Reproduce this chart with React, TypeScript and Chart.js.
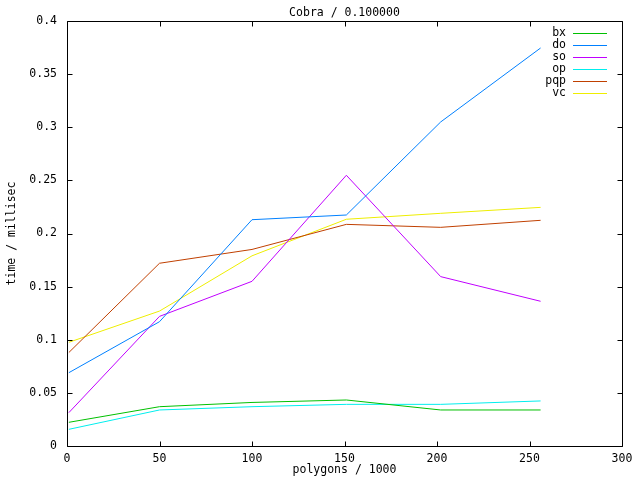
import React, { useEffect, useRef } from "react";
import { Chart, registerables } from "chart.js";

Chart.register(...registerables);

const chartTitle = "Cobra / 0.100000";
const xTitle = "polygons / 1000";
const yTitle = "time / millisec";

const polygons = [1, 50, 100, 151, 202, 256];
const bx = [0.0223, 0.037, 0.041, 0.0433, 0.0339, 0.0339];
const doS = [0.069, 0.117, 0.213, 0.2174, 0.305, 0.3746];
const so = [0.0314, 0.122, 0.155, 0.2548, 0.1594, 0.1362];
const op = [0.0157, 0.0339, 0.037, 0.0392, 0.0392, 0.0424];
const pqp = [0.088, 0.172, 0.185, 0.2086, 0.2058, 0.2124];
const vc = [0.0976, 0.127, 0.179, 0.2134, 0.219, 0.2246];

const seriesNames = ["bx", "do", "so", "op", "pqp", "vc"];
const seriesValues = [bx, doS, so, op, pqp, vc];
const seriesColors = ["#00c000", "#0080ff", "#c000ff", "#00eeee", "#c04000", "#eeee00"];

const xTicks = [0, 50, 100, 150, 200, 250, 300];
const yTicks = [0, 0.05, 0.1, 0.15, 0.2, 0.25, 0.3, 0.35, 0.4];

const FONT = "'DejaVu Sans Mono', monospace";
const FSIZE = 11.5;

const gnuplotPlugin = {
  id: "gnuplotDecor",
  afterDraw(chart: any) {
    const ctx = chart.ctx;
    const a = chart.chartArea;
    const xs = chart.scales.x;
    const ys = chart.scales.y;
    ctx.save();
    ctx.strokeStyle = "#000";
    ctx.lineWidth = 1;
    // frame
    const L = Math.round(a.left) + 0.5;
    const R = Math.round(a.right) + 0.5;
    const T = Math.round(a.top) + 0.5;
    const B = Math.round(a.bottom) + 0.5;
    ctx.beginPath();
    ctx.rect(L, T, R - L, B - T);
    ctx.stroke();
    // ticks
    const tl = 5;
    ctx.beginPath();
    for (const v of yTicks) {
      const y = Math.round(ys.getPixelForValue(v)) + 0.5;
      ctx.moveTo(L, y);
      ctx.lineTo(L + tl, y);
      ctx.moveTo(R, y);
      ctx.lineTo(R - tl, y);
    }
    for (const v of xTicks) {
      const x = Math.round(xs.getPixelForValue(v)) + 0.5;
      ctx.moveTo(x, B);
      ctx.lineTo(x, B - tl);
      ctx.moveTo(x, T);
      ctx.lineTo(x, T + tl);
    }
    ctx.stroke();
    // texts
    ctx.fillStyle = "#000";
    ctx.font = `${FSIZE}px ${FONT}`;
    ctx.textAlign = "center";
    ctx.textBaseline = "middle";
    const cx = (a.left + a.right) / 2;
    ctx.fillText(chartTitle, cx, 13);
    ctx.fillText(xTitle, cx, 470);
    ctx.save();
    ctx.translate(12, (a.top + a.bottom) / 2);
    ctx.rotate(-Math.PI / 2);
    ctx.fillText(yTitle, 0, 0);
    ctx.restore();
    // legend
    chart.data.datasets.forEach((ds: any, i: number) => {
      const y = 33 + i * 12;
      ctx.textAlign = "right";
      ctx.fillStyle = "#000";
      ctx.fillText(ds.label, 566, y);
      ctx.fillStyle = seriesColors[i];
      ctx.fillRect(573, Math.round(y), 34, 1);
    });
    ctx.restore();
  },
};

export default function App() {
  const ref = useRef<HTMLCanvasElement | null>(null);
  useEffect(() => {
    document.body.style.margin = "0";
    const canvas = ref.current;
    if (!canvas) return;
    const chart = new Chart(canvas, {
      type: "line",
      data: {
        datasets: seriesNames.map((name, i) => ({
          label: name,
          data: polygons.map((x, j) => ({ x, y: seriesValues[i][j] })),
          borderColor: seriesColors[i],
          backgroundColor: seriesColors[i],
          borderWidth: 1,
          pointRadius: 0,
          tension: 0,
          fill: false,
        })),
      },
      options: {
        responsive: false,
        animation: false,
        devicePixelRatio: 1,
        layout: { padding: { top: 21, right: 18, left: 0, bottom: 0 } },
        plugins: {
          legend: { display: false },
          title: { display: false },
          tooltip: { enabled: false },
        },
        scales: {
          x: {
            type: "linear",
            min: 0,
            max: 300,
            afterBuildTicks: (s: any) => {
              s.ticks = xTicks.map((v) => ({ value: v }));
            },
            afterFit: (s: any) => {
              s.height = 34;
            },
            grid: { display: false, drawTicks: false },
            border: { display: false },
            ticks: {
              color: "#000",
              padding: 6,
              maxRotation: 0,
              font: { family: FONT, size: FSIZE },
              callback: (v: any) => String(v),
            },
          },
          y: {
            type: "linear",
            min: 0,
            max: 0.4,
            afterBuildTicks: (s: any) => {
              s.ticks = yTicks.map((v) => ({ value: v }));
            },
            afterFit: (s: any) => {
              s.width = 67;
            },
            grid: { display: false, drawTicks: false },
            border: { display: false },
            ticks: {
              color: "#000",
              padding: 10,
              font: { family: FONT, size: FSIZE },
              callback: (v: any) => String(Number(Number(v).toFixed(2))),
            },
          },
        },
      },
      plugins: [gnuplotPlugin],
    });
    return () => chart.destroy();
  }, []);
  return (
    <div style={{ width: 640, height: 480, background: "#fff" }}>
      <canvas ref={ref} width={640} height={480} style={{ display: "block", width: 640, height: 480 }} />
    </div>
  );
}
